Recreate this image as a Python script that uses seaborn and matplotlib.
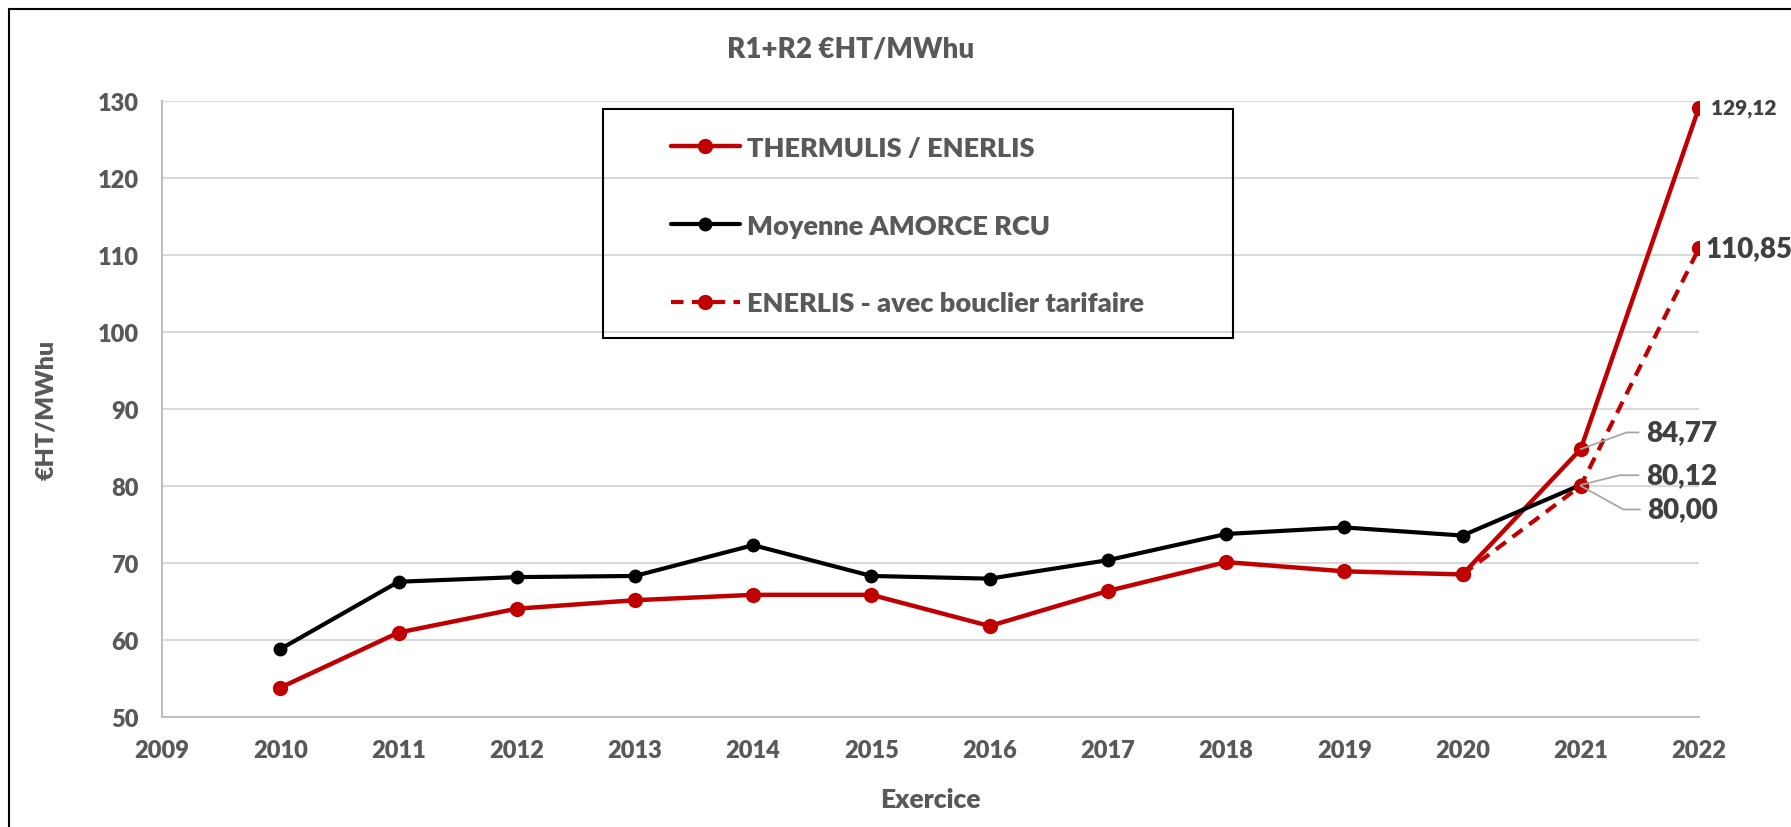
import pandas as pd
import numpy as np
import matplotlib
matplotlib.use("Agg")
import matplotlib.pyplot as plt
from matplotlib.patches import Rectangle
import seaborn as sns

# données
annees = [2010, 2011, 2012, 2013, 2014, 2015, 2016, 2017, 2018, 2019, 2020, 2021, 2022]
thermulis = [53.8, 60.95, 64.05, 65.15, 65.85, 65.85, 61.8, 66.35, 70.1, 68.9, 68.5, 84.77, 129.12]
amorce = [58.8, 67.55, 68.15, 68.3, 72.3, 68.3, 67.95, 70.35, 73.75, 74.6, 73.55, 80.12]
annees_bouclier = [2020, 2021, 2022]
bouclier = [68.5, 80.00, 110.85]

lbl_thermulis = "THERMULIS / ENERLIS"
lbl_amorce = "Moyenne AMORCE RCU"
lbl_bouclier = "ENERLIS - avec bouclier tarifaire"

ROUGE = "#C00000"
GRIS_TXT = "#595959"
POIDS = "heavy"

df_t = pd.DataFrame({"annee": annees, "val": thermulis})
df_a = pd.DataFrame({"annee": annees[:len(amorce)], "val": amorce})
df_b = pd.DataFrame({"annee": annees_bouclier, "val": bouclier})

sns.set_theme(style="white")
plt.rcParams['font.family'] = ['Lato', 'DejaVu Sans']
plt.rcParams['font.weight'] = POIDS

fig, ax = plt.subplots(figsize=(17.91, 8.28), dpi=100)
fig.subplots_adjust(left=0.0905, right=0.9486, top=0.877, bottom=0.133)

sns.lineplot(data=df_t, x="annee", y="val", ax=ax, color=ROUGE, lw=3.2,
             marker="o", markersize=11, markeredgewidth=0, label=lbl_thermulis)
sns.lineplot(data=df_a, x="annee", y="val", ax=ax, color="black", lw=3,
             marker="o", markersize=10, markeredgewidth=0, label=lbl_amorce)
sns.lineplot(data=df_b, x="annee", y="val", ax=ax, color=ROUGE, lw=3,
             marker="o", markersize=11, markeredgewidth=0, label=lbl_bouclier)
ax.lines[-1].set_linestyle((0, (3, 2)))

ax.set_xlim(2009, 2022)
ax.set_ylim(50, 130)
ax.set_xticks(range(2009, 2023))
ax.set_yticks(range(50, 131, 10))
ax.tick_params(axis="both", length=0, labelsize=17, labelcolor=GRIS_TXT)
ax.tick_params(axis="x", pad=16)
ax.tick_params(axis="y", pad=17)
for t in ax.get_xticklabels() + ax.get_yticklabels():
    t.set_fontweight(POIDS)
ax.yaxis.grid(True, color="#D9D9D9", lw=1.5)
ax.xaxis.grid(False)
for s in ["top", "right"]:
    ax.spines[s].set_visible(False)
for s in ["left", "bottom"]:
    ax.spines[s].set_color("#BFBFBF")
    ax.spines[s].set_linewidth(1.5)

ax.set_xlabel("Exercice", fontsize=19, fontweight=POIDS, color=GRIS_TXT, labelpad=19)
ax.set_ylabel("€HT/MWhu", fontsize=18, fontweight=POIDS, color=GRIS_TXT, labelpad=29)
fig.text(0.475, 0.94, "R1+R2 €HT/MWhu", ha="center", va="center",
         fontsize=20, fontweight=POIDS, color=GRIS_TXT)

leg = ax.legend(loc="upper left", bbox_to_anchor=(0.331, 0.943), fontsize=19.5,
                frameon=False, handlelength=2.55, handletextpad=0.27,
                labelspacing=1.98, borderpad=0, borderaxespad=0)
for t in leg.get_texts():
    t.set_color(GRIS_TXT)
    t.set_fontweight(POIDS)
ax.add_patch(Rectangle((0.287, 0.615), 0.41, 0.372, transform=ax.transAxes,
                       fill=False, edgecolor="black", lw=1.5, zorder=5))

# étiquettes de valeurs
ax.annotate(f"{thermulis[-1]:.2f}".replace(".", ","), (annees[-1], thermulis[-1]),
            xytext=(9, 0), textcoords="offset points", va="center", ha="left",
            fontsize=15, fontweight=POIDS, color="#404040", annotation_clip=False)
ax.annotate(f"{bouclier[-1]:.2f}".replace(".", ","), (annees_bouclier[-1], bouclier[-1]),
            xytext=(5, 0), textcoords="offset points", va="center", ha="left",
            fontsize=20, fontweight=POIDS, color="#404040", annotation_clip=False)

leaders = [
    (thermulis[-2], (47, 12), 20),
    (amorce[-1], (47, 7), 14),
    (bouclier[1], (48, -17), -29),
]
for val, off, ang in leaders:
    ax.annotate(f"{val:.2f}".replace(".", ","), (2021, val), xytext=off,
                textcoords="offset points", va="center", ha="left",
                fontsize=20, fontweight=POIDS, color="#404040",
                arrowprops=dict(arrowstyle="-", color="#A6A6A6", lw=1.3,
                                relpos=(0, 0.5), shrinkA=3, shrinkB=0,
                                connectionstyle=f"angle,angleA=0,angleB={ang},rad=0"))

# cadre extérieur
fig.patches.append(Rectangle((0.005, -0.1), 1.2, 1.088, transform=fig.transFigure,
                             fill=False, edgecolor="black", lw=1.5))

fig.savefig("out.png", dpi=100, facecolor="white")
